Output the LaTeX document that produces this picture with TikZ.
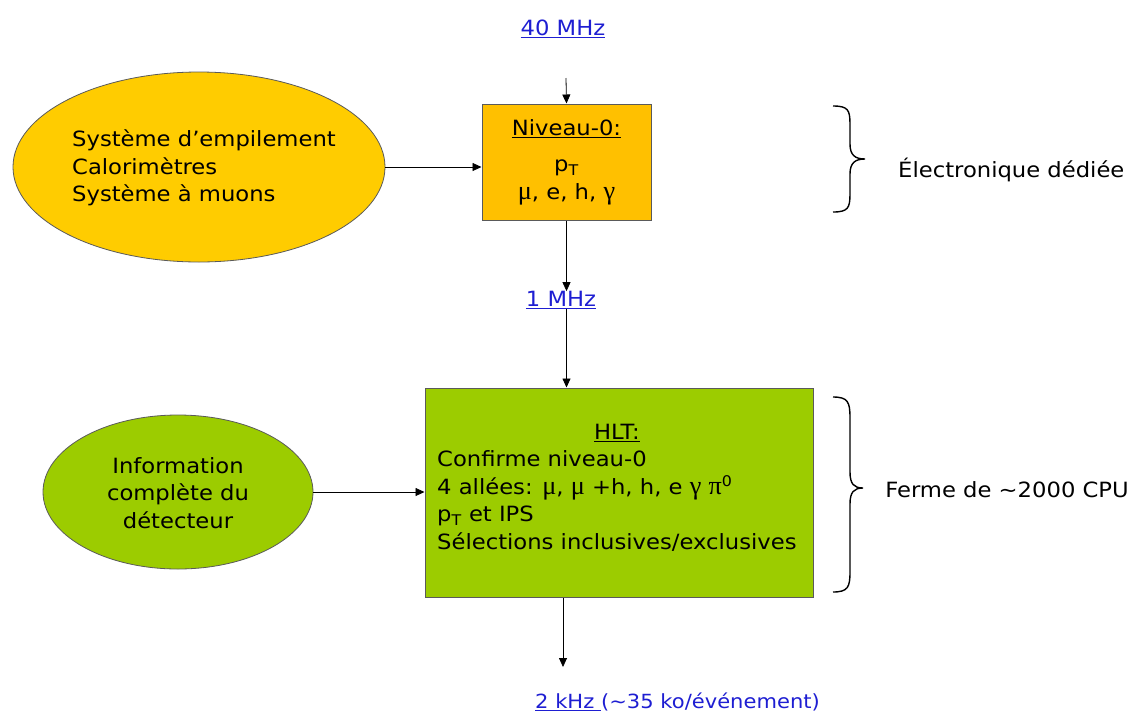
\documentclass[tikz,border=0pt]{standalone}
\usepackage{fontspec}
\setmainfont{DejaVu Sans}[FakeStretch=1.08]
\newfontfamily\grk{Liberation Serif}[Scale=1.25]
\usetikzlibrary{shapes.geometric,arrows.meta}
\definecolor{yel}{HTML}{FFCC00}
\definecolor{orn}{HTML}{FFC000}
\definecolor{grn}{HTML}{9CCC00}
\definecolor{bord}{HTML}{5A5A5A}
\definecolor{blu}{HTML}{1E1ED2}
\tikzset{
  txt/.style={font=\fontsize{21}{27.5}\selectfont, inner sep=0pt},
  bluetxt/.style={txt, text=blu},
  ell/.style={ellipse, draw=bord, line width=0.8pt, inner sep=0pt},
  boxn/.style={rectangle, draw=bord, line width=1pt, inner sep=0pt, txt},
  arr/.style={-{Triangle[length=9pt,width=8pt]}, line width=0.8pt, black},
  brace/.style={line width=1.4pt, black},
}
\begin{document}
\begin{tikzpicture}[x=1pt,y=-1pt]
\useasboundingbox (0,0) rectangle (1133,713);

% top rate
\node[bluetxt] (mhz40) at (563,29) {\underline{40 MHz}};
\coordinate (in40) at (566,78);

% Niveau-0 box
\node[boxn, fill=orn, minimum width=169pt, minimum height=116pt, align=center] (n0) at (566.5,162)
  {\underline{Niveau-0:}\\[9pt] p\textsubscript{T}\\ {\grk μ}, e, h, {\grk γ}};

% yellow ellipse
\node[ell, fill=yel, minimum width=372pt, minimum height=190pt] (elA) at (199,167) {};
\node[txt, align=left] (elAtext) at (204,168)
  {Système d’empilement\\ Calorimètres\\ Système à muons};

% 1 MHz
\node[bluetxt] (mhz1) at (561,300) {\underline{1 MHz}};

% HLT box
\node[boxn, fill=grn, minimum width=388pt, minimum height=209pt] (hlt) at (619,492.5) {};
\node[txt, anchor=north west] (hlttext) at (437,420)
  {\begin{tabular}{@{}l@{}}
   \multicolumn{1}{@{}c@{}}{\underline{HLT:}}\\
   Confirme niveau-0\\
   4 allées: {\grk μ}, {\grk μ} +h, h, e {\grk γ} {\grk π}\textsuperscript{0}\\
   p\textsubscript{T} et IPS\\
   Sélections inclusives/exclusives
   \end{tabular}};

% green ellipse
\node[ell, fill=grn, minimum width=270pt, minimum height=154pt] (elB) at (178,492) {};
\node[txt, align=center] (elBtext) at (178,493)
  {Information\\ complète du\\ détecteur};

% output
\coordinate (out) at (563,667);
\node[bluetxt, anchor=west, font=\fontsize{19.5}{24}\selectfont] (khz2) at (535,702) {\underline{2 kHz\ }(\textasciitilde 35 ko/événement)};

% right labels
\node[txt, anchor=west] (elec) at (898,170) {Électronique dédiée};
\node[txt, anchor=east] (ferme) at (1129,490) {Ferme de \textasciitilde 2000 CPU};

% connectors
\draw[arr] (in40) -- (n0.north);
\draw[arr] (elA.east) -- (elA.east -| n0.west);
\draw[arr] (n0.south) -- (n0.south |- mhz1.north);
\draw[arr] (mhz1.south -| n0.south) -- (hlt.north -| n0.south);
\draw[arr] (elB.east) -- (elB.east -| hlt.west);
\draw[arr] (hlt.south -| out) -- (out);

% braces
\coordinate (b1t) at (833,106);
\coordinate (b1b) at (833,212);
\coordinate (b1m) at (865,159);
\draw[brace] (b1t) .. controls (848,106) and (850,110) .. (850,124)
  -- (850,144) .. controls (850,155) and (855,159) .. (b1m)
  .. controls (855,159) and (850,163) .. (850,174)
  -- (850,194) .. controls (850,208) and (848,212) .. (b1b);
\coordinate (b2t) at (833,397);
\coordinate (b2b) at (833,592);
\coordinate (b2m) at (863,488);
\draw[brace] (b2t) .. controls (848,397) and (850,402) .. (850,418)
  -- (850,472) .. controls (850,484) and (854,488) .. (b2m)
  .. controls (854,488) and (850,492) .. (850,504)
  -- (850,572) .. controls (850,587) and (848,592) .. (b2b);
\end{tikzpicture}
\end{document}
